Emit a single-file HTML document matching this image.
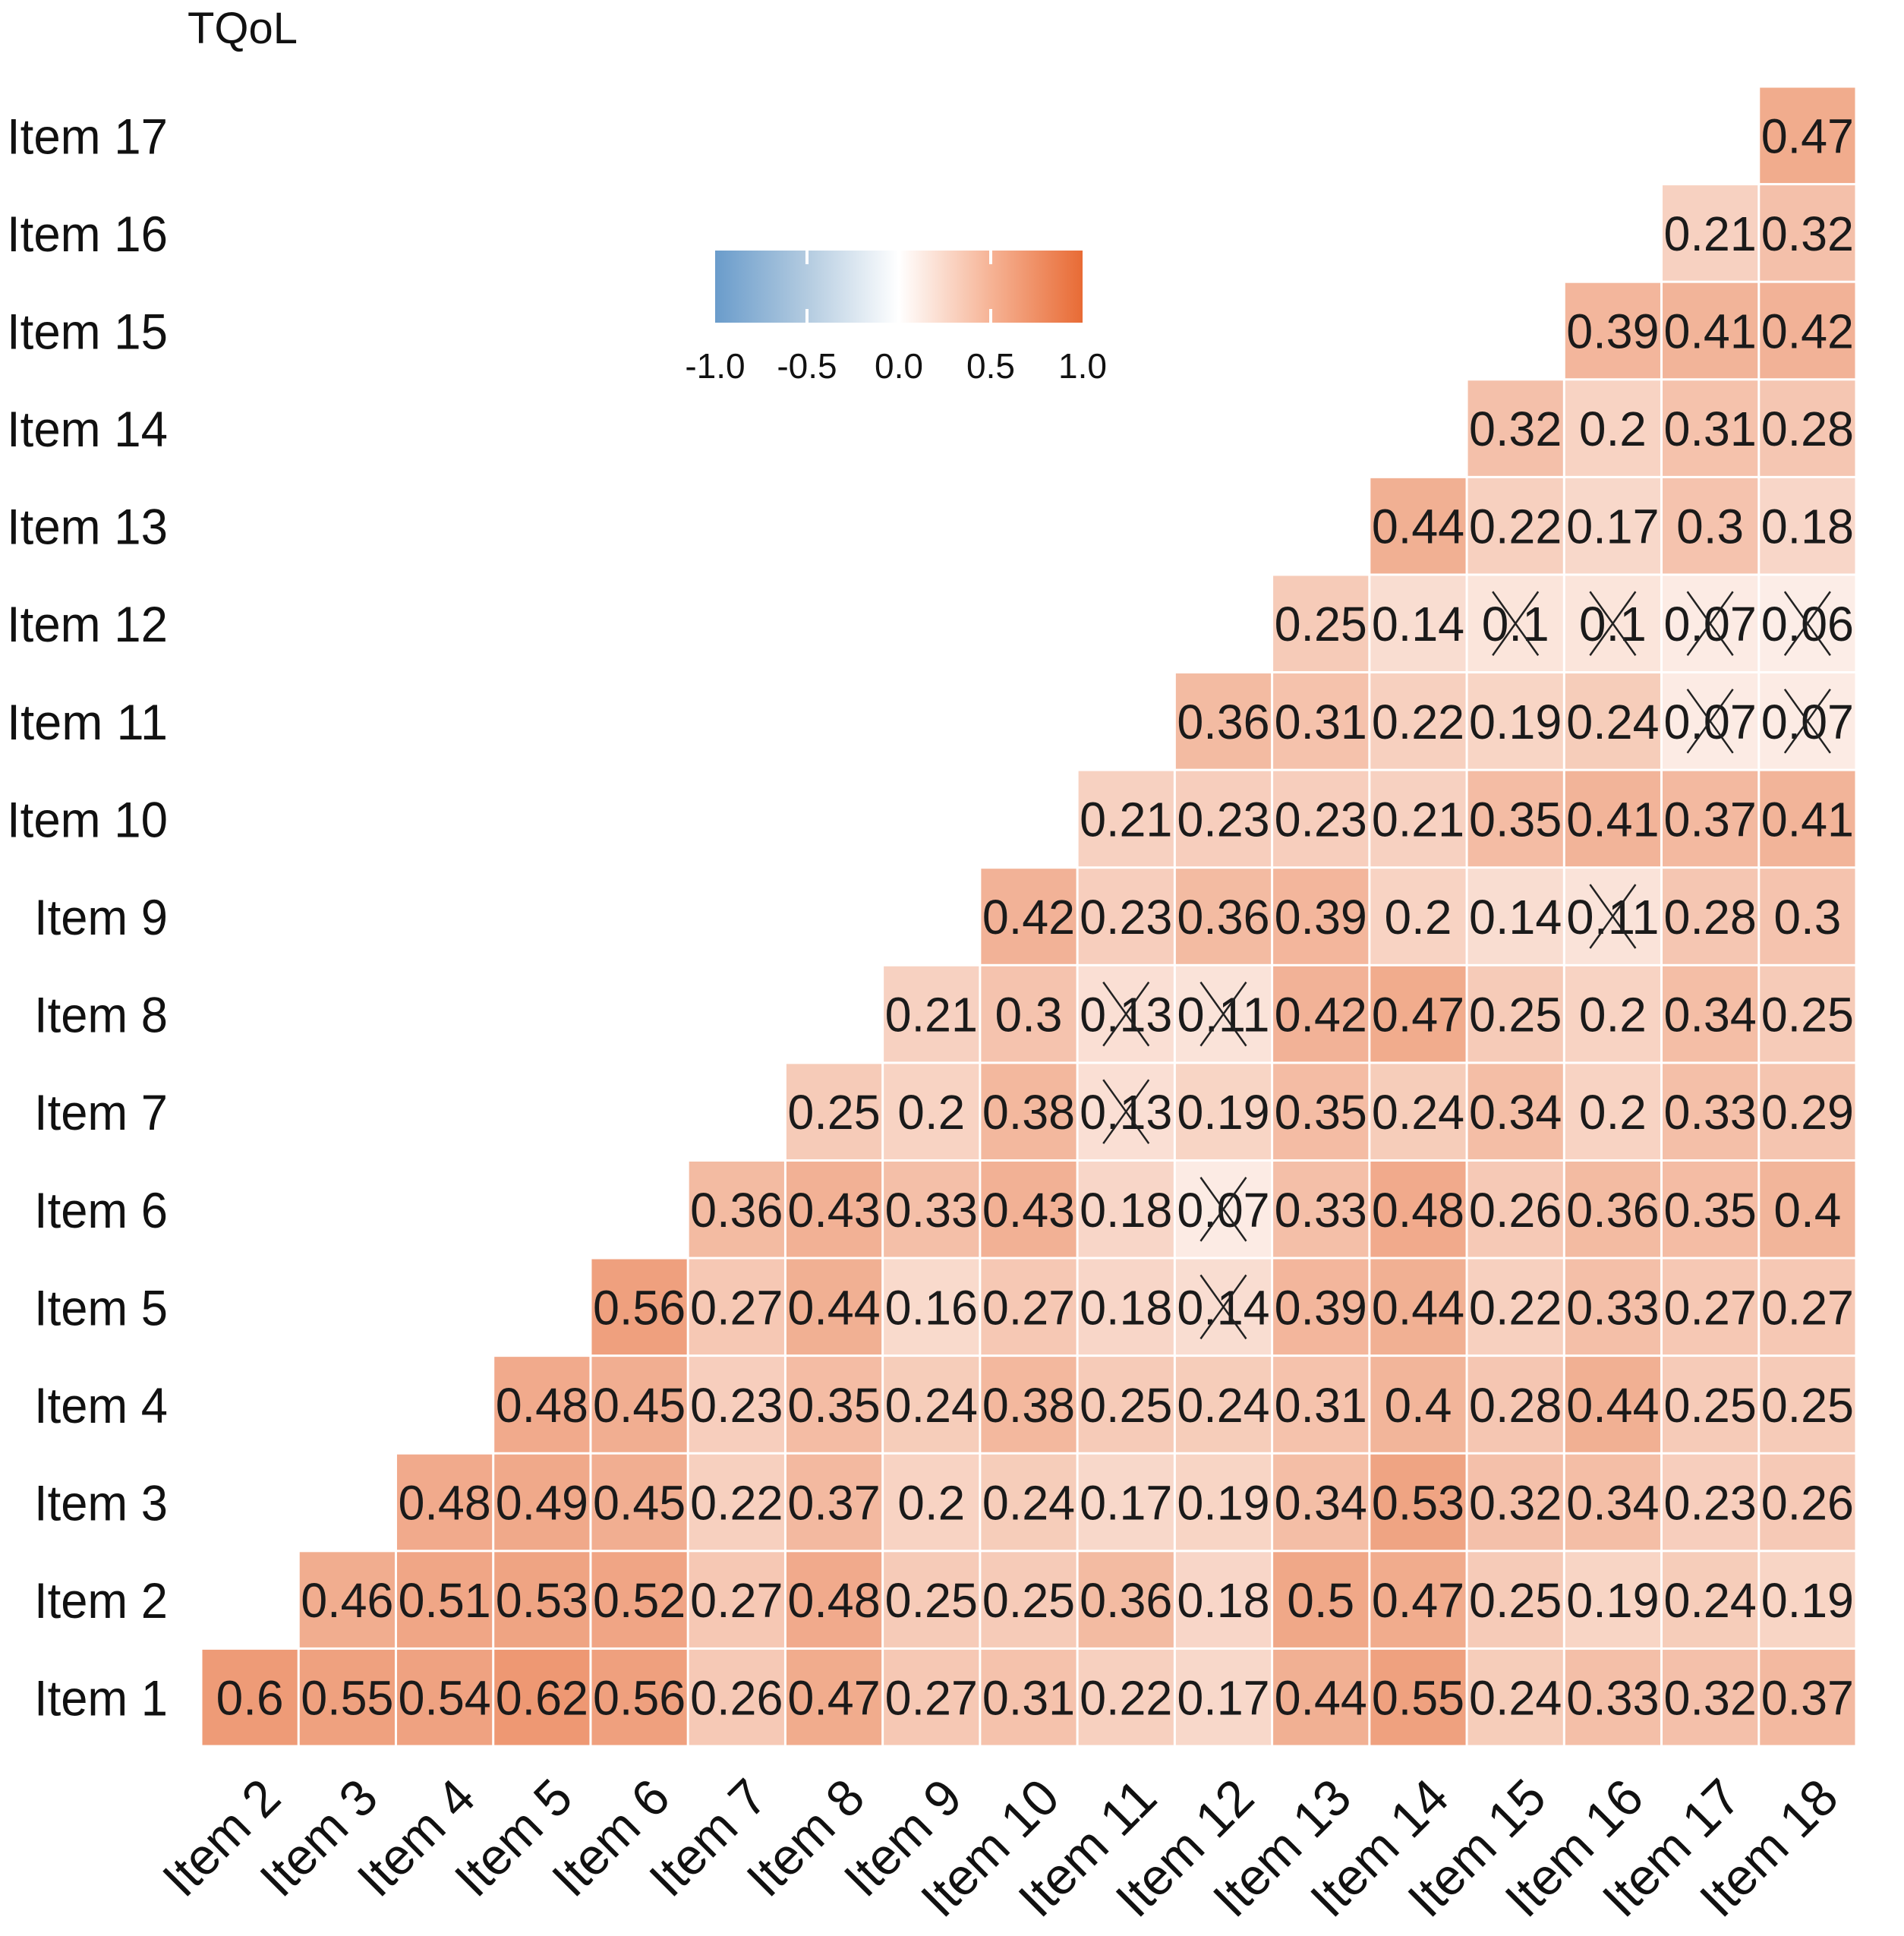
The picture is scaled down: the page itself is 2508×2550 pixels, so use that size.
<!DOCTYPE html>
<html><head><meta charset="utf-8"><style>
html,body{margin:0;padding:0;background:#fff;}
svg{display:block;font-family:"Liberation Sans",Arial,sans-serif;}
</style></head><body>
<svg id="chart" width="2508" height="2550" viewBox="0 0 2508 2550" xmlns="http://www.w3.org/2000/svg">
<rect width="2508" height="2550" fill="#fff"/>
<text x="247" y="57" font-size="58" fill="#111">TQoL</text>
<defs><linearGradient id="lg" x1="0" x2="1" y1="0" y2="0">
<stop offset="0" stop-color="#6a9ccb"/><stop offset="0.25" stop-color="#b3cbe0"/><stop offset="0.5" stop-color="#ffffff"/><stop offset="0.75" stop-color="#f6b395"/><stop offset="1" stop-color="#e86b35"/></linearGradient></defs>
<g id="legend"></g>
<g id="cells"></g>
<g id="ylab"></g>
<g id="xlab"></g>
</svg>
<script>
const rowLabels=["Item 1","Item 2","Item 3","Item 4","Item 5","Item 6","Item 7","Item 8","Item 9","Item 10","Item 11","Item 12","Item 13","Item 14","Item 15","Item 16","Item 17"];
const colLabels=["Item 2","Item 3","Item 4","Item 5","Item 6","Item 7","Item 8","Item 9","Item 10","Item 11","Item 12","Item 13","Item 14","Item 15","Item 16","Item 17","Item 18"];
const row1=[0.6,0.55,0.54,0.62,0.56,0.26,0.47,0.27,0.31,0.22,0.17,0.44,0.55,0.24,0.33,0.32,0.37];
const row2=[0.46,0.51,0.53,0.52,0.27,0.48,0.25,0.25,0.36,0.18,0.5,0.47,0.25,0.19,0.24,0.19];
const row3=[0.48,0.49,0.45,0.22,0.37,0.2,0.24,0.17,0.19,0.34,0.53,0.32,0.34,0.23,0.26];
const row4=[0.48,0.45,0.23,0.35,0.24,0.38,0.25,0.24,0.31,0.4,0.28,0.44,0.25,0.25];
const row5=[0.56,0.27,0.44,0.16,0.27,0.18,0.14,0.39,0.44,0.22,0.33,0.27,0.27];
const row6=[0.36,0.43,0.33,0.43,0.18,0.07,0.33,0.48,0.26,0.36,0.35,0.4];
const row7=[0.25,0.2,0.38,0.13,0.19,0.35,0.24,0.34,0.2,0.33,0.29];
const row8=[0.21,0.3,0.13,0.11,0.42,0.47,0.25,0.2,0.34,0.25];
const row9=[0.42,0.23,0.36,0.39,0.2,0.14,0.11,0.28,0.3];
const row10=[0.21,0.23,0.23,0.21,0.35,0.41,0.37,0.41];
const row11=[0.36,0.31,0.22,0.19,0.24,0.07,0.07];
const row12=[0.25,0.14,0.1,0.1,0.07,0.06];
const row13=[0.44,0.22,0.17,0.3,0.18];
const row14=[0.32,0.2,0.31,0.28];
const row15=[0.39,0.41,0.42];
const row16=[0.21,0.32];
const row17=[0.47];
const rows=[row1,row2,row3,row4,row5,row6,row7,row8,row9,row10,row11,row12,row13,row14,row15,row16,row17];
// non-significant cells (crossed): [rowIndex, colIndex]
const crossed=[[4,11],[5,11],[6,10],[7,10],[7,11],[8,15],[10,16],[10,17],[11,14],[11,15],[11,16],[11,17]];
const legendTicks=[-1.0,-0.5,0.0,0.5,1.0];
const legendTickLabels=["-1.0","-0.5","0.0","0.5","1.0"];

const NS="http://www.w3.org/2000/svg";
const X0=265,X1=2445,Y0=114,Y1=2300,N=17;
const cw=(X1-X0)/N, rh=(Y1-Y0)/N;
function xPos(c){return X0+c*cw;}
function yPos(r){return Y1-(r+1)*rh;}
function color(v){
  const t=Math.pow(Math.min(1,Math.abs(v)),0.75);
  const end=v>=0?[230,108,55]:[100,150,200];
  const c=end.map(e=>Math.round(255+(e-255)*t));
  return `rgb(${c[0]},${c[1]},${c[2]})`;
}
function mk(tag,attrs,parent){const e=document.createElementNS(NS,tag);for(const k in attrs)e.setAttribute(k,attrs[k]);parent.appendChild(e);return e;}
const cells=document.getElementById('cells');
rows.forEach((vals,r)=>{
  vals.forEach((v,k)=>{
    const c=r+k;
    const g=mk('g',{},cells);
    
    
    mk('rect',{x:xPos(c)+1.5,y:yPos(r)+1.5,width:cw-3,height:rh-3,fill:color(v)},g);
    const t=mk('text',{x:xPos(c)+cw/2,y:yPos(r)+rh/2+23,'font-size':64,'text-anchor':'middle',fill:'#1a1a1a'},g);
    t.textContent=String(v);
    const txt=String(v); if(txt.length>=4){t.setAttribute('textLength',cw-6);t.setAttribute('lengthAdjust','spacingAndGlyphs');}
  });
});
crossed.forEach(([r,c])=>{
  const cx=xPos(c-1)+cw/2, cy=yPos(r)+rh/2;
  const g=mk('g',{stroke:'#222','stroke-width':2.5},cells);
  
  
  mk('line',{x1:cx-30,y1:cy-42,x2:cx+30,y2:cy+42},g);
  mk('line',{x1:cx+30,y1:cy-42,x2:cx-30,y2:cy+42},g);
});
const yl=document.getElementById('ylab');
rowLabels.forEach((l,r)=>{
  const t=mk('text',{x:221,y:yPos(r)+rh/2+24,'font-size':66,'text-anchor':'end',fill:'#111'},yl);
  
  
  t.textContent=l;
  t.setAttribute('textLength',l.length>6?212:176);t.setAttribute('lengthAdjust','spacingAndGlyphs');
});
const xl=document.getElementById('xlab');
colLabels.forEach((l,c)=>{
  const ax=xPos(c)+cw/2+44, ay=Y1+72;
  const t=mk('text',{x:ax,y:ay,'font-size':68,'text-anchor':'end',fill:'#111',transform:`rotate(-45 ${ax} ${ay})`},xl);
  
  
  t.textContent=l;
  t.setAttribute('textLength',l.length>6?222:184);t.setAttribute('lengthAdjust','spacingAndGlyphs');
});
const lg=document.getElementById('legend');
const LX0=942,LX1=1426,LY=330,LH=95;
function lx(v){return LX0+(v+1)/2*(LX1-LX0);}
const bar=mk('rect',{x:LX0,y:LY,width:LX1-LX0,height:LH,fill:'url(#lg)'},lg);


legendTicks.forEach((v,i)=>{
  if(i>0&&i<legendTicks.length-1){mk('line',{x1:lx(v),x2:lx(v),y1:LY,y2:LY+18,stroke:'#fff','stroke-width':4},lg);
  mk('line',{x1:lx(v),x2:lx(v),y1:LY+LH-18,y2:LY+LH,stroke:'#fff','stroke-width':4},lg);}
  const t=mk('text',{x:lx(v),y:LY+LH+73,'font-size':46,'text-anchor':'middle',fill:'#111'},lg);
  
  
  t.textContent=legendTickLabels[i];
});
</script>
</body></html>
